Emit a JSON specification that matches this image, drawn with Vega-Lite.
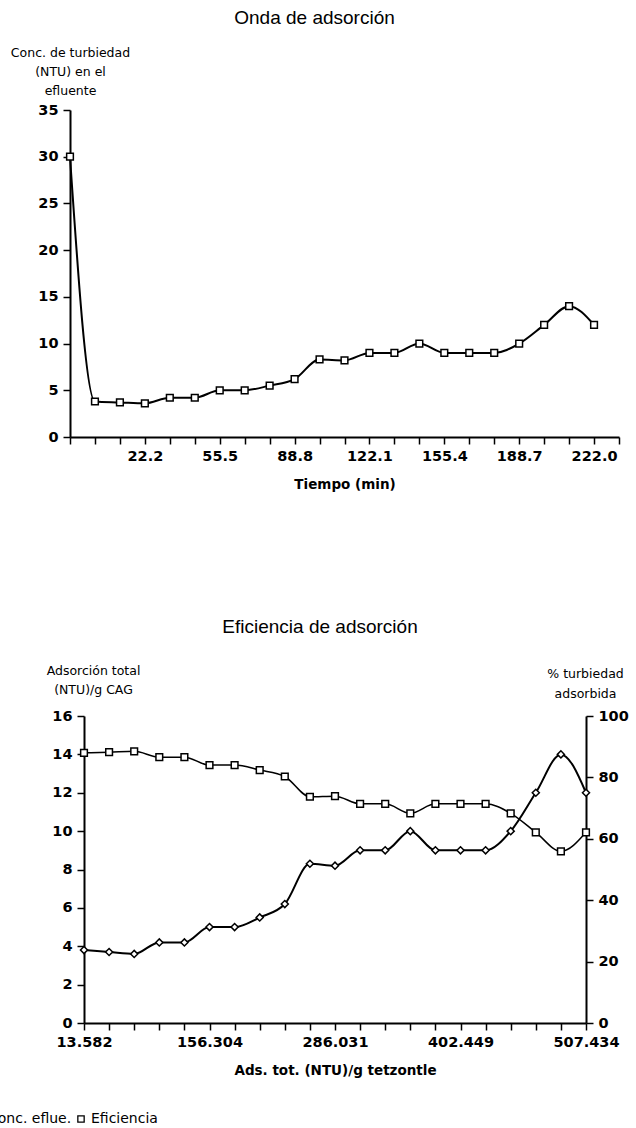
{
  "$schema": "https://vega.github.io/schema/vega-lite/v6.json",
  "autosize": {"type": "none"},
  "padding": {"left": 70, "top": 110, "right": 566, "bottom": 1018},
  "background": "white",
  "config": {
    "view": {"stroke": null},
    "font": "DejaVu Sans",
    "axis": {
      "grid": false,
      "domainColor": "black",
      "domainWidth": 2,
      "tickColor": "black",
      "tickWidth": 1.5,
      "tickSize": 7,
      "labelColor": "black",
      "labelFont": "DejaVu Sans",
      "labelFontWeight": "bold",
      "labelFontSize": 14.5,
      "labelPadding": 5,
      "labelFlush": false,
      "labelOverlap": false,
      "titleColor": "black",
      "titleFont": "DejaVu Sans",
      "titleFontWeight": "bold",
      "titleFontSize": 13.5
    },
    "title": {"font": "Liberation Sans", "fontSize": 19, "fontWeight": "normal", "color": "black"}
  },
  "bounds": "flush",
  "spacing": 279,
  "vconcat": [
    {
      "title": {"text": "Onda de adsorción", "frame": "group", "anchor": "middle", "dx": -30, "offset": 18},
      "width": 549,
      "height": 327,
      "data": {
        "values": [
          {"t": -11.1, "conc": 30},
          {"t": 0, "conc": 3.8},
          {"t": 11.1, "conc": 3.7},
          {"t": 22.2, "conc": 3.6},
          {"t": 33.3, "conc": 4.2},
          {"t": 44.4, "conc": 4.2},
          {"t": 55.5, "conc": 5.0},
          {"t": 66.6, "conc": 5.0},
          {"t": 77.7, "conc": 5.5},
          {"t": 88.8, "conc": 6.2},
          {"t": 99.9, "conc": 8.3},
          {"t": 111.0, "conc": 8.2},
          {"t": 122.1, "conc": 9.0},
          {"t": 133.2, "conc": 9.0},
          {"t": 144.3, "conc": 10.0},
          {"t": 155.4, "conc": 9.0},
          {"t": 166.5, "conc": 9.0},
          {"t": 177.6, "conc": 9.0},
          {"t": 188.7, "conc": 10.0},
          {"t": 199.8, "conc": 12.0},
          {"t": 210.9, "conc": 14.0},
          {"t": 222.0, "conc": 12.0}
        ]
      },
      "encoding": {
        "x": {
          "field": "t",
          "type": "quantitative",
          "scale": {"domain": [-11.1, 233.1], "nice": false, "zero": false},
          "axis": {
            "values": [-11.1, 0, 11.1, 22.2, 33.3, 44.4, 55.5, 66.6, 77.7, 88.8, 99.9, 111, 122.1, 133.2, 144.3, 155.4, 166.5, 177.6, 188.7, 199.8, 210.9, 222, 233.1],
            "labelExpr": "(datum.value == 22.2 || datum.value == 55.5 || datum.value == 88.8 || datum.value == 122.1 || datum.value == 155.4 || datum.value == 188.7 || datum.value == 222) ? format(datum.value, '.1f') : ''",
            "title": "Tiempo (min)",
            "titlePadding": 15
          }
        },
        "y": {
          "field": "conc",
          "type": "quantitative",
          "scale": {"domain": [0, 35], "nice": false},
          "axis": {
            "values": [0, 5, 10, 15, 20, 25, 30, 35],
            "title": ["Conc. de turbiedad", "(NTU) en el", "efluente"],
            "titleAngle": 0,
            "titleAlign": "center",
            "titleBaseline": "bottom",
            "titleX": 0,
            "titleY": -51,
            "titleFontWeight": "normal",
            "titleFontSize": 12.5,
            "titleLineHeight": 19
          }
        }
      },
      "layer": [
        {"mark": {"type": "line", "interpolate": "monotone", "color": "black", "strokeWidth": 2}},
        {"mark": {"type": "point", "shape": "square", "size": 45, "filled": true, "fill": "white", "stroke": "black", "strokeWidth": 1.5, "opacity": 1}}
      ]
    },
    {
      "hconcat": [
        {
          "width": 14,
          "height": 307,
          "data": {"values": [{}]},
          "mark": {"type": "rule", "opacity": 0},
          "encoding": {}
        },
        {
          "title": {"text": "Eficiencia de adsorción", "frame": "group", "anchor": "middle", "dx": -15, "offset": 27},
          "width": 502,
          "height": 307,
          "data": {
            "values": [
              {"punto": 1, "conc": 3.8, "eficiencia": 88.0},
              {"punto": 2, "conc": 3.7, "eficiencia": 88.2},
              {"punto": 3, "conc": 3.6, "eficiencia": 88.5},
              {"punto": 4, "conc": 4.2, "eficiencia": 86.6},
              {"punto": 5, "conc": 4.2, "eficiencia": 86.6},
              {"punto": 6, "conc": 5.0, "eficiencia": 84.0},
              {"punto": 7, "conc": 5.0, "eficiencia": 84.0},
              {"punto": 8, "conc": 5.5, "eficiencia": 82.4},
              {"punto": 9, "conc": 6.2, "eficiencia": 80.3},
              {"punto": 10, "conc": 8.3, "eficiencia": 73.7},
              {"punto": 11, "conc": 8.2, "eficiencia": 73.9},
              {"punto": 12, "conc": 9.0, "eficiencia": 71.4},
              {"punto": 13, "conc": 9.0, "eficiencia": 71.4},
              {"punto": 14, "conc": 10.0, "eficiencia": 68.3},
              {"punto": 15, "conc": 9.0, "eficiencia": 71.4},
              {"punto": 16, "conc": 9.0, "eficiencia": 71.4},
              {"punto": 17, "conc": 9.0, "eficiencia": 71.4},
              {"punto": 18, "conc": 10.0, "eficiencia": 68.3},
              {"punto": 19, "conc": 12.0, "eficiencia": 62.1},
              {"punto": 20, "conc": 14.0, "eficiencia": 55.9},
              {"punto": 21, "conc": 12.0, "eficiencia": 62.1}
            ]
          },
          "encoding": {
            "x": {
              "field": "punto",
              "type": "quantitative",
              "scale": {"domain": [1, 21], "nice": false, "zero": false},
              "axis": {
                "values": [1, 2, 3, 4, 5, 6, 7, 8, 9, 10, 11, 12, 13, 14, 15, 16, 17, 18, 19, 20, 21],
                "labelExpr": "datum.value == 1 ? '13.582' : datum.value == 6 ? '156.304' : datum.value == 11 ? '286.031' : datum.value == 16 ? '402.449' : datum.value == 21 ? '507.434' : ''",
                "title": "Ads. tot. (NTU)/g tetzontle",
                "titlePadding": 15
              }
            }
          },
          "layer": [
            {
              "encoding": {
                "y": {
                  "field": "conc",
                  "type": "quantitative",
                  "scale": {"domain": [0, 16], "nice": false},
                  "axis": {
                    "values": [0, 2, 4, 6, 8, 10, 12, 14, 16],
                    "title": ["Adsorción total", "(NTU)/g CAG"],
                    "titleAngle": 0,
                    "titleAlign": "center",
                    "titleBaseline": "bottom",
                    "titleX": 9,
                    "titleY": -39,
                    "titleFontWeight": "normal",
                    "titleFontSize": 12.5,
                    "titleLineHeight": 19
                  }
                }
              },
              "layer": [
                {"mark": {"type": "line", "interpolate": "monotone", "color": "black", "strokeWidth": 2}},
                {
                  "mark": {"type": "point", "size": 50, "filled": true, "fill": "white", "stroke": "black", "strokeWidth": 1.5, "opacity": 1},
                  "encoding": {
                    "shape": {
                      "datum": "Conc. eflue.",
                      "scale": {"domain": ["Conc. eflue.", "Eficiencia"], "range": ["diamond", "square"]},
                      "legend": {
                        "title": null,
                        "orient": "none",
                        "direction": "horizontal",
                        "legendX": -99,
                        "legendY": 1002,
                        "padding": 0,
                        "labelFont": "DejaVu Sans",
                        "labelFontSize": 14,
                        "labelColor": "black",
                        "labelOffset": 3,
                        "columnPadding": 2,
                        "symbolSize": 40,
                        "symbolStrokeWidth": 1.3,
                        "encode": {
                          "symbols": {
                            "update": {
                              "fill": {"value": "white"},
                              "stroke": {"value": "black"},
                              "strokeWidth": {"value": 1.3},
                              "opacity": {"value": 1}
                            }
                          }
                        }
                      }
                    }
                  }
                }
              ]
            },
            {
              "encoding": {
                "y": {
                  "field": "eficiencia",
                  "type": "quantitative",
                  "scale": {"domain": [0, 100], "nice": false},
                  "axis": {
                    "orient": "right",
                    "values": [0, 20, 40, 60, 80, 100],
                    "title": ["% turbiedad", "adsorbida"],
                    "titleAngle": 0,
                    "titleAlign": "center",
                    "titleBaseline": "bottom",
                    "titleX": -1,
                    "titleY": -36,
                    "titleFontWeight": "normal",
                    "titleFontSize": 12.5,
                    "titleLineHeight": 20
                  }
                }
              },
              "layer": [
                {"mark": {"type": "line", "interpolate": "monotone", "color": "black", "strokeWidth": 1.5}},
                {
                  "mark": {"type": "point", "size": 45, "filled": true, "fill": "white", "stroke": "black", "strokeWidth": 1.5, "opacity": 1},
                  "encoding": {"shape": {"datum": "Eficiencia"}}
                }
              ]
            }
          ],
          "resolve": {"scale": {"y": "independent"}}
        }
      ],
      "spacing": 0,
      "bounds": "flush"
    }
  ]
}
